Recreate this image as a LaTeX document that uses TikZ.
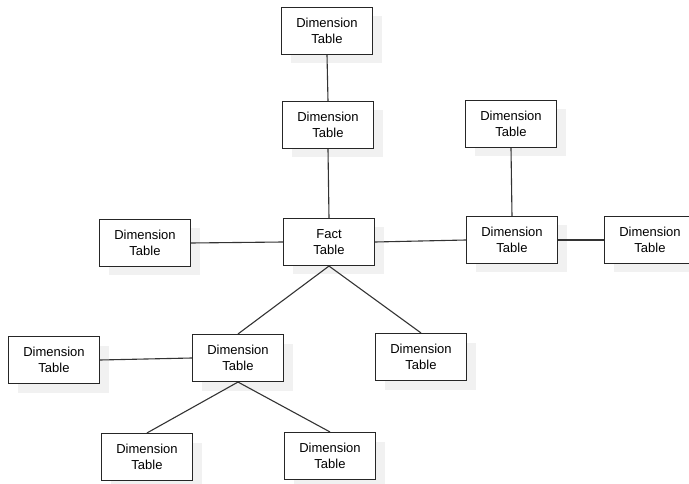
\documentclass[tikz,border=0pt]{standalone}
\usepackage{fontspec}
\setmainfont{Liberation Sans}
\usetikzlibrary{shadows}
\begin{document}
\begin{tikzpicture}[x=1pt,y=-1pt,
  tbl/.style={draw=black!85, line width=1.1pt, fill=white,
    minimum width=91pt, minimum height=47pt, inner sep=0pt,
    align=center, font=\fontsize{13}{15.5}\selectfont,
    drop shadow={shadow xshift=9pt, shadow yshift=-9pt, fill=black!7, opacity=0.8}},
  link/.style={draw=black!80, line width=1.1pt}]
\useasboundingbox (0,0) rectangle (689,484);

% tables
\node[tbl] (top)    at (327,31)  {Dimension\\Table};
\node[tbl] (upper)  at (328,125) {Dimension\\Table};
\node[tbl] (rtop)   at (511,124) {Dimension\\Table};
\node[tbl] (left)   at (145,243) {Dimension\\Table};
\node[tbl] (fact)   at (329,242) {Fact\\Table};
\node[tbl] (rmid)   at (512,240) {Dimension\\Table};
\node[tbl] (far)    at (650,240) {Dimension\\Table};
\node[tbl] (lbot)   at (54,360)  {Dimension\\Table};
\node[tbl] (mid)    at (238,358) {Dimension\\Table};
\node[tbl] (rbot)   at (421,357) {Dimension\\Table};
\node[tbl] (bl)     at (147,457) {Dimension\\Table};
\node[tbl] (br)     at (330,456) {Dimension\\Table};

% connectors
\draw[link] (top.south) -- (upper.north);
\draw[link] (upper.south) -- (fact.north);
\draw[link] (left.east) -- (fact.west);
\draw[link] (fact.east) -- (rmid.west);
\draw[link] (rtop.south) -- (rmid.north);
\draw[link] (rmid.east) -- (far.west);
\draw[link] (fact.south) -- (mid.north);
\draw[link] (fact.south) -- (rbot.north);
\draw[link] (lbot.east) -- (mid.west);
\draw[link] (mid.south) -- (bl.north);
\draw[link] (mid.south) -- (br.north);
\end{tikzpicture}
\end{document}
